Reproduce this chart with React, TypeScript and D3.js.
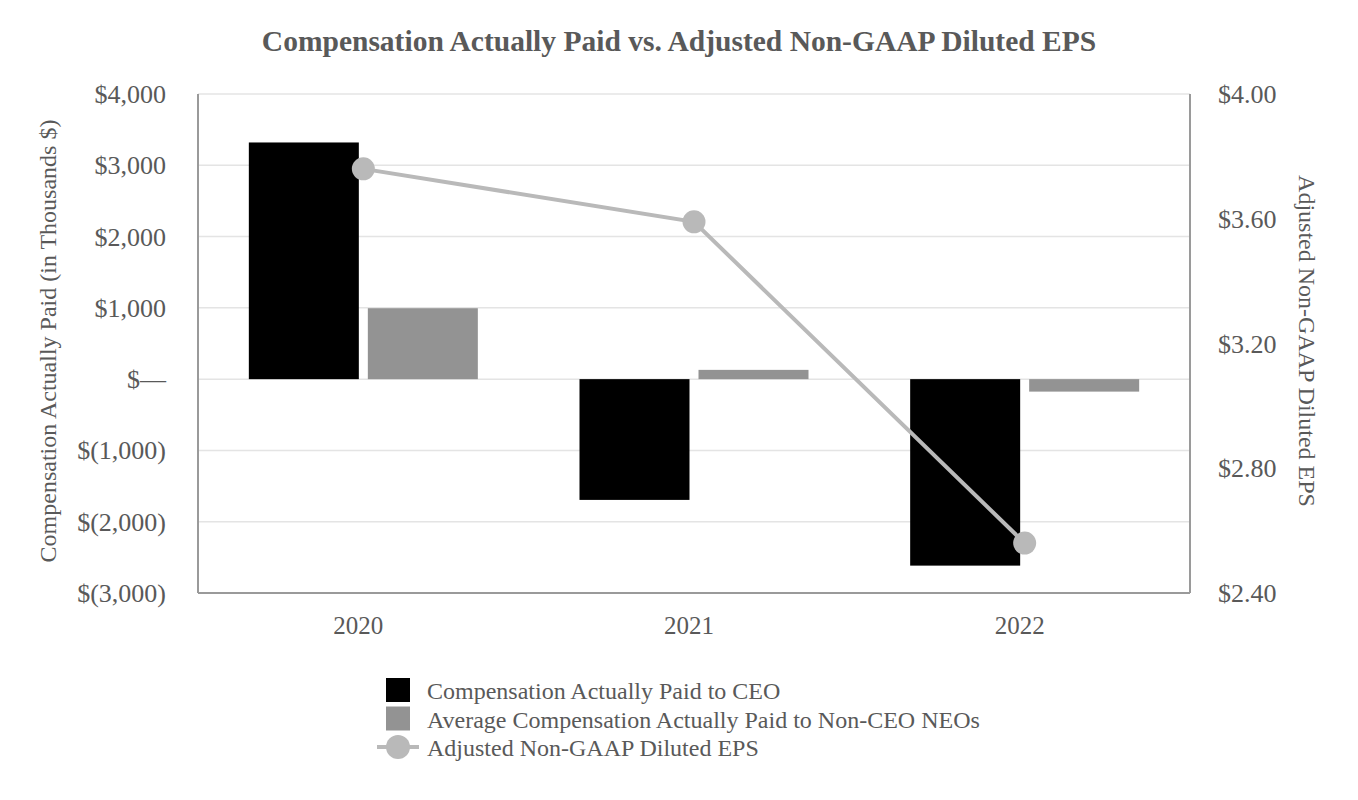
import { useRef, useEffect } from 'react'
import * as d3 from 'd3'

const years = ['2020', '2021', '2022']
const ceoPay = [3320, -1694, -2616]
const neoPay = [995, 130, -175]
const eps = [3.76, 3.59, 2.56]
const leftTicks = [-3000, -2000, -1000, 0, 1000, 2000, 3000, 4000]
const rightTicks = [2.4, 2.8, 3.2, 3.6, 4.0]
const seriesNames = [
  'Compensation Actually Paid to CEO',
  'Average Compensation Actually Paid to Non-CEO NEOs',
  'Adjusted Non-GAAP Diluted EPS',
]

const font = '"Liberation Serif", "Times New Roman", serif'
const textColor = '#595959'
const ceoColor = '#000000'
const neoColor = '#939393'
const lineColor = '#b9b9b9'

const fmtLeft = (v: number) => {
  if (v === 0) return '$—'
  const s = d3.format(',')(Math.abs(v))
  return v < 0 ? `$(${s})` : `$${s}`
}

const App = () => {
  const ref = useRef<SVGSVGElement>(null)

  useEffect(() => {
    if (!ref.current) return
    const width = 1358
    const height = 800
    const m = { left: 198, right: 168, top: 94, bottom: 207 }
    const svg = d3.select(ref.current)
    svg.selectAll('*').remove()
    svg.attr('width', width).attr('height', height)

    const x = d3.scaleBand().domain(years).range([m.left, width - m.right])
    const y = d3.scaleLinear().domain([-3000, 4000]).range([height - m.bottom, m.top])
    const y2 = d3.scaleLinear().domain([2.4, 4.0]).range([height - m.bottom, m.top])

    svg
      .append('text')
      .attr('x', 679)
      .attr('y', 51)
      .attr('text-anchor', 'middle')
      .attr('font-family', font)
      .attr('font-weight', 'bold')
      .attr('font-size', 29.5)
      .attr('fill', textColor)
      .text('Compensation Actually Paid vs. Adjusted Non-GAAP Diluted EPS')

    // gridlines
    svg
      .append('g')
      .selectAll('line')
      .data(leftTicks)
      .enter()
      .append('line')
      .attr('x1', m.left)
      .attr('x2', width - m.right)
      .attr('y1', (d) => y(d))
      .attr('y2', (d) => y(d))
      .attr('stroke', '#e4e4e4')
      .attr('stroke-width', 1.5)

    // bars
    const barW = 110
    const gap = 9
    const bars = svg.append('g')
    years.forEach((yr, i) => {
      const c = x(yr)! + x.bandwidth() / 2
      bars
        .append('rect')
        .attr('x', c - gap / 2 - barW)
        .attr('width', barW)
        .attr('y', y(Math.max(0, ceoPay[i])))
        .attr('height', Math.abs(y(ceoPay[i]) - y(0)))
        .attr('fill', ceoColor)
      bars
        .append('rect')
        .attr('x', c + gap / 2)
        .attr('width', barW)
        .attr('y', y(Math.max(0, neoPay[i])))
        .attr('height', Math.abs(y(neoPay[i]) - y(0)))
        .attr('fill', neoColor)
    })

    // axis lines
    const axisColor = '#9a9a9a'
    const axisLine = (x1: number, x2: number, y1: number, y2v: number) =>
      svg
        .append('line')
        .attr('x1', x1)
        .attr('x2', x2)
        .attr('y1', y1)
        .attr('y2', y2v)
        .attr('stroke', axisColor)
        .attr('stroke-width', 2)
    axisLine(m.left, m.left, m.top, height - m.bottom)
    axisLine(width - m.right, width - m.right, m.top, height - m.bottom)
    axisLine(m.left, width - m.right, height - m.bottom, height - m.bottom)

    // line series
    const line = d3
      .line<number>()
      .x((_, i) => x(years[i])! + x.bandwidth() / 2)
      .y((d) => y2(d))
    svg
      .append('path')
      .datum(eps)
      .attr('d', line)
      .attr('fill', 'none')
      .attr('stroke', lineColor)
      .attr('stroke-width', 4)
    svg
      .append('g')
      .selectAll('circle')
      .data(eps)
      .enter()
      .append('circle')
      .attr('cx', (_, i) => x(years[i])! + x.bandwidth() / 2)
      .attr('cy', (d) => y2(d))
      .attr('r', 11.5)
      .attr('fill', lineColor)

    // tick labels
    svg
      .append('g')
      .selectAll('text')
      .data(leftTicks)
      .enter()
      .append('text')
      .attr('x', 166)
      .attr('y', (d) => y(d) + 9)
      .attr('text-anchor', 'end')
      .attr('font-family', font)
      .attr('font-size', 26)
      .attr('fill', textColor)
      .text((d) => fmtLeft(d))
    svg
      .append('g')
      .selectAll('text')
      .data(rightTicks)
      .enter()
      .append('text')
      .attr('x', 1218)
      .attr('y', (d) => y2(d) + 9)
      .attr('text-anchor', 'start')
      .attr('font-family', font)
      .attr('font-size', 26)
      .attr('fill', textColor)
      .text((d) => `$${d.toFixed(2)}`)
    svg
      .append('g')
      .selectAll('text')
      .data(years)
      .enter()
      .append('text')
      .attr('x', (d) => x(d)! + x.bandwidth() / 2 - 5)
      .attr('y', 634)
      .attr('text-anchor', 'middle')
      .attr('font-family', font)
      .attr('font-size', 25)
      .attr('fill', textColor)
      .text((d) => d)

    // axis titles
    svg
      .append('text')
      .attr('transform', `translate(56,341)rotate(-90)`)
      .attr('text-anchor', 'middle')
      .attr('font-family', font)
      .attr('font-size', 24)
      .attr('fill', textColor)
      .text('Compensation Actually Paid (in Thousands $)')
    svg
      .append('text')
      .attr('transform', `translate(1299,341)rotate(90)`)
      .attr('text-anchor', 'middle')
      .attr('font-family', font)
      .attr('font-size', 24)
      .attr('fill', textColor)
      .text('Adjusted Non-GAAP Diluted EPS')

    // legend
    const lg = svg.append('g')
    const rows = [690, 718.5, 747]
    ;[ceoColor, neoColor].forEach((c, i) => {
      lg.append('rect')
        .attr('x', 386)
        .attr('y', rows[i] - 12)
        .attr('width', 24)
        .attr('height', 24)
        .attr('fill', c)
    })
    lg.append('line')
      .attr('x1', 377)
      .attr('x2', 419)
      .attr('y1', rows[2])
      .attr('y2', rows[2])
      .attr('stroke', lineColor)
      .attr('stroke-width', 4)
    lg.append('circle').attr('cx', 398).attr('cy', rows[2]).attr('r', 12).attr('fill', lineColor)
    seriesNames.forEach((n, i) => {
      lg.append('text')
        .attr('x', 427)
        .attr('y', rows[i] + 9)
        .attr('font-family', font)
        .attr('font-size', 24)
        .attr('fill', textColor)
        .text(n)
    })
  }, [])

  return (
    <div style={{ margin: -8 }}>
      <svg ref={ref} style={{ display: 'block' }} />
    </div>
  )
}

export default App
